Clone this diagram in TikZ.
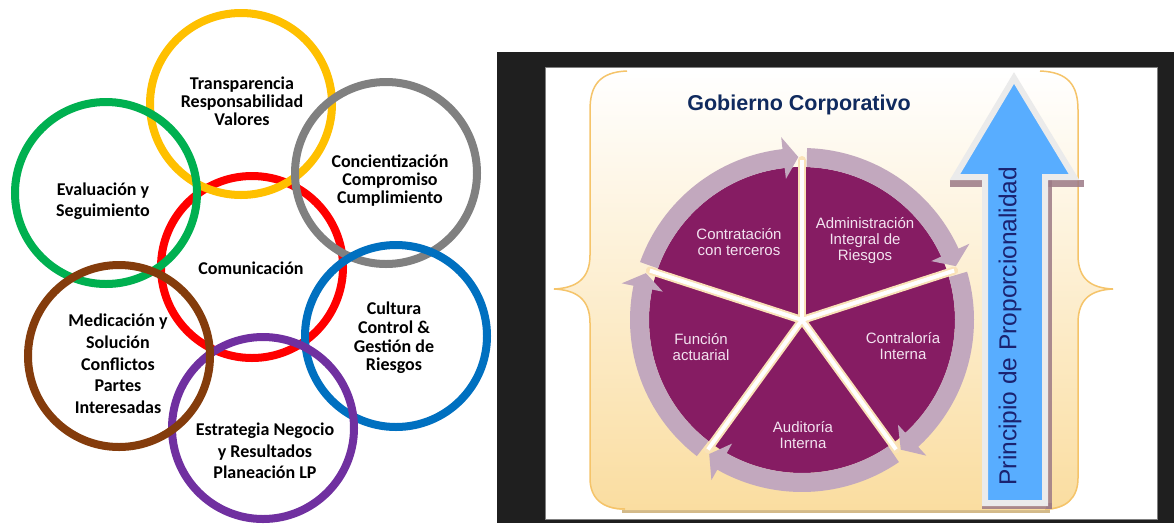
\documentclass[tikz,border=0pt]{standalone}
\usepackage{fontspec}
\setmainfont{Liberation Sans}
\newfontfamily\calib{Carlito}
\definecolor{cyel}{HTML}{FFC000}
\definecolor{cgray}{HTML}{808080}
\definecolor{cgreen}{HTML}{00B050}
\definecolor{cred}{HTML}{FF0000}
\definecolor{cblueo}{HTML}{0070C0}
\definecolor{cbrown}{HTML}{843C0C}
\definecolor{cpurp}{HTML}{7030A0}
\definecolor{cdark}{HTML}{1F1F1F}
\definecolor{cbrace}{HTML}{FADDA0}
\definecolor{cbracemid}{HTML}{FDF0DA}
\definecolor{cbraceline}{HTML}{F5C46A}
\definecolor{cbraceshadow}{HTML}{D3BA8A}
\definecolor{cnavy}{HTML}{102A5E}
\definecolor{cnavyb}{HTML}{1A2270}
\definecolor{cslice}{HTML}{861C63}
\definecolor{cring}{HTML}{C2A8BE}
\definecolor{ccream}{HTML}{FAE2B8}
\definecolor{cstxt}{HTML}{F3E3F0}
\definecolor{carrow}{HTML}{58ADFF}
\definecolor{carrowedge}{HTML}{EBEBEB}
\definecolor{cashadow}{HTML}{9C7A86}
\tikzset{
  ring/.style={circle, minimum size=182pt, line width=8pt, inner sep=0pt, draw=#1},
  lbl/.style={font=\calib\bfseries\fontsize{18}{#1}\selectfont, align=center, inner sep=0pt, text=black},
  lbl/.default=18,
  slice/.style={font=\fontsize{15}{16}\selectfont, align=center, inner sep=0pt, text=cstxt}
}
\begin{document}
\begin{tikzpicture}[x=1pt,y=-1pt]
\useasboundingbox (0,0) rectangle (1174,523);
\fill[white] (0,0) rectangle (1174,523);
% ---------- left: interlinked circles ----------
\node[ring=cred] (cR) at (252,267) {};
\node[ring=cyel] (cY) at (241,104) {};
\node[ring=cgreen] (cG) at (106,193) {};
\node[ring=cgray] (cA) at (386,173) {};
\node[ring=cblueo] (cB) at (396,336) {};
\node[ring=cpurp] (cP) at (263,428) {};
\node[ring=cbrown] (cN) at (119,356) {};
\node[lbl] (tY) at (242,101) {Transparencia\\Responsabilidad\\Valores};
\node[lbl] (tA) at (390,181) {Concientización\\Compromiso\\Cumplimiento};
\node[lbl=21] (tG) at (103,201) {Evaluación y\\Seguimiento};
\node[lbl] (tR) at (251,268) {Comunicación};
\node[lbl=21.7] (tN) at (118,364) {Medicación y\\Solución\\Conflictos\\Partes\\Interesadas};
\node[lbl=18.7] (tB) at (394,338) {Cultura\\Control \&\\Gestión de\\Riesgos};
\node[lbl=21.5] (tP) at (265,451) {Estrategia Negocio\\y Resultados\\Planeación LP};
% ---------- right: slide ----------
\fill[cdark] (497,52) rectangle (1174,523);
\fill[white, draw=cgray, line width=0.8pt] (545,67) rectangle (1157,519);
% brace shape
\fill[cbraceshadow] (622,508) rectangle (1050,513);
\shade[top color=white, middle color=cbracemid, bottom color=cbrace]
  (627,71) .. controls (600,72) and (590,85) .. (590,110) -- (590,255)
  .. controls (590,280) and (575,288) .. (554,289)
  .. controls (575,290) and (590,298) .. (590,323) -- (590,478)
  .. controls (590,498) and (602,510) .. (625,510) -- (1045,510)
  .. controls (1066,510) and (1078,498) .. (1078,478) -- (1078,323)
  .. controls (1078,298) and (1092,290) .. (1113,289)
  .. controls (1092,288) and (1078,280) .. (1078,255) -- (1078,110)
  .. controls (1078,85) and (1068,72) .. (1040,71) -- cycle;
\draw[cbraceline, line width=1.5pt]
  (627,71) .. controls (600,72) and (590,85) .. (590,110) -- (590,255)
  .. controls (590,280) and (575,288) .. (554,289)
  .. controls (575,290) and (590,298) .. (590,323) -- (590,478)
  .. controls (590,498) and (602,509) .. (625,509);
\draw[cbraceline, line width=1.5pt]
  (1045,509) .. controls (1066,509) and (1078,498) .. (1078,478) -- (1078,323)
  .. controls (1078,298) and (1092,290) .. (1113,289)
  .. controls (1092,288) and (1078,280) .. (1078,255) -- (1078,110)
  .. controls (1078,85) and (1068,72) .. (1040,71);
% title
\node[font=\bfseries\fontsize{21.5}{22}\selectfont, text=cnavy, inner sep=0pt] (title) at (799,105) {Gobierno Corporativo};
% pie
\begin{scope}[shift={(802,320)}, yscale=-1]
  \fill[cslice] (0,0) circle[radius=153];
  \foreach \s [evaluate=\s as \aS using \s-1.7,
               evaluate=\s as \aT using \s-72+1.3,
               evaluate=\s as \aB using \s-72+6.5] in {162,90,18,-54,-126}
    \fill[cring] (\aS:153) -- (\aS:172) arc[start angle=\aS, end angle=\aB, radius=172]
      -- (\aB:184) -- (\aT:163) -- (\aB:142) -- (\aB:153)
      arc[start angle=\aB, end angle=\aS, radius=153] -- cycle;
  \foreach \a in {90,18,-54,-126,162}
    \draw[ccream, line width=8pt, line cap=round] (0,0) -- (\a:160);
  \foreach \a in {90,18,-54,-126,162}
    \draw[white, line width=4pt] (0,0) -- (\a:160);
\end{scope}
\node[slice] (s1) at (739,242) {Contratación\\con terceros};
\node[slice] (s2) at (865,241) {Administración\\Integral de\\Riesgos};
\node[slice] (s3) at (903,346) {Contraloría\\Interna};
\node[slice] (s4) at (803,435) {Auditoría\\Interna};
\node[slice] (s5) at (701,347) {Función\\actuarial};
% big arrow
\fill[cashadow, opacity=0.85] (950,180) rectangle (1084,187);
\fill[cashadow, opacity=0.85] (1046,180) rectangle (1052,509);
\fill[cashadow, opacity=0.85] (982,503) rectangle (1052,509);
\draw[carrowedge, fill=carrow, line width=6pt, line join=miter]
  (1014,78) -- (1074,177) -- (1045,177) -- (1045,503) -- (985,503) -- (985,177) -- (955,177) -- cycle;
\node[rotate=90, font=\fontsize{24.5}{25}\selectfont, text=cnavyb, inner sep=0pt] (ppl) at (1010,326) {Principio de Proporcionalidad};
\end{tikzpicture}
\end{document}
